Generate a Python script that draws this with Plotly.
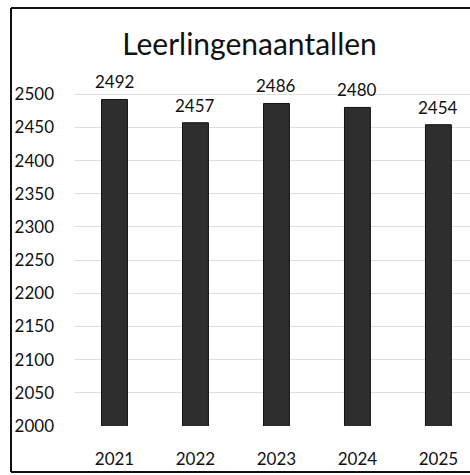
import plotly.graph_objects as go

years = ["2021", "2022", "2023", "2024", "2025"]
counts = [2492, 2457, 2486, 2480, 2454]
title_text = "Leerlingenaantallen"

FONT = "Lato"

fig = go.Figure()
fig.add_trace(go.Bar(
    x=years, y=counts,
    marker=dict(color="#2e2e2e", line=dict(color="#111111", width=1)),
    width=0.32,
    textposition="none",
    hoverinfo="x+y",
))

for i, v in enumerate(counts):
    fig.add_annotation(x=i, y=v, xref="x", yref="y", text=str(v), showarrow=False,
                       yanchor="bottom", yshift=5,
                       font=dict(family=FONT, size=17, color="#111111"))

L, R, T, B = 74, 0, 61, 49
W, H = 470, 475
pw = W - L - R
ph = H - T - B

def px_x(x):
    return (x - L) / pw

def px_y(y):
    return (H - B - y) / ph

frame = dict(color="#111111", width=2)
fig.add_shape(type="line", xref="paper", yref="paper",
              x0=px_x(11), x1=px_x(11), y0=px_y(8), y1=px_y(472), line=frame)
fig.add_shape(type="line", xref="paper", yref="paper",
              x0=px_x(11), x1=px_x(470), y0=px_y(8), y1=px_y(8), line=frame)
fig.add_shape(type="line", xref="paper", yref="paper",
              x0=px_x(11), x1=px_x(470), y0=px_y(472), y1=px_y(472), line=frame)

fig.update_layout(
    width=W, height=H,
    margin=dict(l=L, r=R, t=T, b=B, autoexpand=False),
    paper_bgcolor="white", plot_bgcolor="white",
    showlegend=False,
    title=dict(text=title_text, x=(122 + 377) / 2 / W, xanchor="center",
               y=1 - 44 / H, yanchor="middle",
               font=dict(family=FONT, size=30, color="#111111")),
    font=dict(family=FONT, size=17, color="#111111"),
    xaxis=dict(type="category", range=[-0.5, 4.39], showgrid=False,
               showline=False, ticks="", ticklabelstandoff=21,
               automargin=False,
               tickfont=dict(family=FONT, size=17)),
    yaxis=dict(range=[2000, 2550], tickvals=list(range(2000, 2501, 50)),
               showgrid=True, gridcolor="#dedede", gridwidth=1,
               zeroline=False, showline=False, ticks="",
               ticklabelstandoff=19, automargin=False,
               tickfont=dict(family=FONT, size=17)),
)

fig.write_html("out.html", config={"displayModeBar": False},
               post_script="document.body.style.margin='0';document.body.style.overflow='hidden';")
